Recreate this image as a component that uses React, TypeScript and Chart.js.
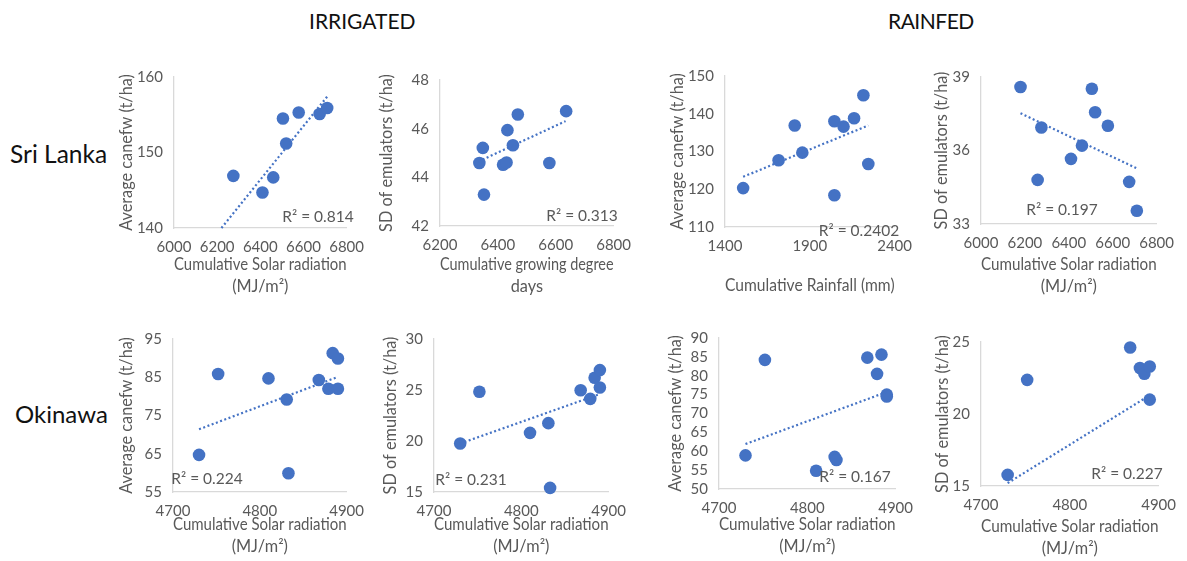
import React, { useEffect, useRef } from "react";
import { Chart, registerables } from "chart.js";

Chart.register(...registerables);

const FONT = "Lato, 'Open Sans', sans-serif";
const BLUE = "#4472C4";
const GRAY = "#595959";
const AXIS = "#D9D9D9";

// ---------- Sri Lanka, irrigated: canefw vs cumulative solar radiation ----------
const slIrrCaneX = [6275, 6410, 6460, 6505, 6520, 6578, 6675, 6710];
const slIrrCaneY = [146.9, 144.7, 146.7, 154.5, 151.2, 155.3, 155.1, 155.9];
const slIrrCaneTrendX = [6220, 6710];
const slIrrCaneTrendY = [140, 157.4];

// ---------- Sri Lanka, irrigated: SD vs cumulative GDD ----------
const slIrrSdX = [6336, 6348, 6352, 6418, 6430, 6433, 6452, 6469, 6578, 6636];
const slIrrSdY = [44.59, 45.21, 43.29, 44.52, 44.61, 45.94, 45.32, 46.58, 44.59, 46.72];
const slIrrSdTrendX = [6333, 6634];
const slIrrSdTrendY = [44.65, 46.31];

// ---------- Sri Lanka, rainfed: canefw vs cumulative rainfall ----------
const slRfCaneX = [1507, 1716, 1811, 1856, 2045, 2045, 2099, 2161, 2216, 2245];
const slRfCaneY = [120.3, 127.7, 136.9, 129.7, 138.0, 118.4, 136.6, 138.8, 144.9, 126.7];
const slRfCaneTrendX = [1507, 2245];
const slRfCaneTrendY = [123.3, 136.9];

// ---------- Sri Lanka, rainfed: SD vs cumulative solar radiation ----------
const slRfSdX = [6180, 6258, 6275, 6410, 6460, 6505, 6520, 6578, 6675, 6710];
const slRfSdY = [38.59, 34.8, 36.94, 35.66, 36.2, 38.52, 37.56, 37.01, 34.72, 33.54];
const slRfSdTrendX = [6180, 6710];
const slRfSdTrendY = [37.52, 35.27];

// ---------- Okinawa, irrigated: canefw vs cumulative solar radiation ----------
const okIrrCaneX = [4730, 4752, 4810, 4831, 4833, 4868, 4879, 4884, 4890, 4890];
const okIrrCaneY = [64.7, 85.85, 84.7, 79.2, 59.9, 84.3, 82.0, 91.3, 89.9, 82.0];
const okIrrCaneTrendX = [4730, 4890];
const okIrrCaneTrendY = [71.4, 85.1];

// ---------- Okinawa, irrigated: SD vs cumulative solar radiation ----------
const okIrrSdX = [4730, 4752, 4810, 4831, 4833, 4868, 4879, 4884, 4890, 4890];
const okIrrSdY = [19.75, 24.83, 20.8, 21.75, 15.4, 24.98, 24.13, 26.2, 26.95, 25.24];
const okIrrSdTrendX = [4730, 4890];
const okIrrSdTrendY = [19.75, 24.6];

// ---------- Okinawa, rainfed: canefw vs cumulative solar radiation ----------
const okRfCaneX = [4730, 4752, 4810, 4831, 4833, 4868, 4879, 4884, 4890, 4890];
const okRfCaneY = [58.9, 84.2, 54.85, 58.5, 57.7, 84.8, 80.5, 85.6, 75.0, 74.5];
const okRfCaneTrendX = [4730, 4890];
const okRfCaneTrendY = [61.9, 75.7];

// ---------- Okinawa, rainfed: SD vs cumulative solar radiation ----------
const okRfSdX = [4730, 4752, 4868, 4879, 4884, 4890, 4890];
const okRfSdY = [15.77, 22.37, 24.62, 23.19, 22.79, 23.3, 21.0];
const okRfSdTrendX = [4730, 4890];
const okRfSdTrendY = [15.2, 21.3];

// axis ranges [min, max, step]
const xSolarSL: [number, number, number] = [6000, 6800, 200];
const xGdd: [number, number, number] = [6200, 6800, 200];
const xRain: [number, number, number] = [1400, 2400, 500];
const xSolarOK: [number, number, number] = [4700, 4900, 100];

const CANE_TITLE = "Average canefw (t/ha)";
const SD_TITLE = "SD of emulators (t/ha)";
const SOLAR_TITLE = ["Cumulative Solar radiation", "(MJ/m\u00B2)"];

type Panel = {
  xs: number[];
  ys: number[];
  tx: number[];
  ty: number[];
  rect: [number, number, number, number];
  xr: [number, number, number];
  yr: [number, number, number];
  yTitle: string;
  yTitleX: number;
  xTitle: string[];
  xTitleLastY: number;
  r2: string;
  r2At: [number, number];
};

const panels: Panel[] = [
  {
    xs: slIrrCaneX, ys: slIrrCaneY, tx: slIrrCaneTrendX, ty: slIrrCaneTrendY,
    rect: [174, 71, 350, 228], xr: xSolarSL, yr: [140, 160, 10],
    yTitle: CANE_TITLE, yTitleX: 127, xTitle: SOLAR_TITLE, xTitleLastY: 287,
    r2: "R\u00B2 = 0.814", r2At: [318, 217],
  },
  {
    xs: slIrrSdX, ys: slIrrSdY, tx: slIrrSdTrendX, ty: slIrrSdTrendY,
    rect: [440, 74, 617, 226], xr: xGdd, yr: [42, 48, 2],
    yTitle: SD_TITLE, yTitleX: 387, xTitle: ["Cumulative growing degree", "days"], xTitleLastY: 287,
    r2: "R\u00B2 = 0.313", r2At: [582, 216],
  },
  {
    xs: slRfCaneX, ys: slRfCaneY, tx: slRfCaneTrendX, ty: slRfCaneTrendY,
    rect: [725, 70, 898, 227], xr: xRain, yr: [110, 150, 10],
    yTitle: CANE_TITLE, yTitleX: 678, xTitle: ["Cumulative Rainfall (mm)"], xTitleLastY: 286,
    r2: "R\u00B2 = 0.2402", r2At: [859, 231],
  },
  {
    xs: slRfSdX, ys: slRfSdY, tx: slRfSdTrendX, ty: slRfSdTrendY,
    rect: [981, 71, 1160, 224], xr: xSolarSL, yr: [33, 39, 3],
    yTitle: SD_TITLE, yTitleX: 942, xTitle: SOLAR_TITLE, xTitleLastY: 287,
    r2: "R\u00B2 = 0.197", r2At: [1062, 210],
  },
  {
    xs: okIrrCaneX, ys: okIrrCaneY, tx: okIrrCaneTrendX, ty: okIrrCaneTrendY,
    rect: [173, 333, 350, 492], xr: xSolarOK, yr: [55, 95, 10],
    yTitle: CANE_TITLE, yTitleX: 127, xTitle: SOLAR_TITLE, xTitleLastY: 547,
    r2: "R\u00B2 = 0.224", r2At: [207, 479],
  },
  {
    xs: okIrrSdX, ys: okIrrSdY, tx: okIrrSdTrendX, ty: okIrrSdTrendY,
    rect: [434, 333, 612, 492], xr: xSolarOK, yr: [15, 30, 5],
    yTitle: SD_TITLE, yTitleX: 391, xTitle: SOLAR_TITLE, xTitleLastY: 547,
    r2: "R\u00B2 = 0.231", r2At: [471, 480],
  },
  {
    xs: okRfCaneX, ys: okRfCaneY, tx: okRfCaneTrendX, ty: okRfCaneTrendY,
    rect: [719, 332, 899, 489], xr: xSolarOK, yr: [50, 90, 5],
    yTitle: CANE_TITLE, yTitleX: 676, xTitle: SOLAR_TITLE, xTitleLastY: 547,
    r2: "R\u00B2 = 0.167", r2At: [855, 477],
  },
  {
    xs: okRfSdX, ys: okRfSdY, tx: okRfSdTrendX, ty: okRfSdTrendY,
    rect: [981, 336, 1162, 486], xr: xSolarOK, yr: [15, 25, 5],
    yTitle: SD_TITLE, yTitleX: 943, xTitle: SOLAR_TITLE, xTitleLastY: 549,
    r2: "R\u00B2 = 0.227", r2At: [1127, 474],
  },
];

const TITLE_SIZE = 16.3;
const TITLE_LH = 22;
const TICK_SIZE = 15;
const TP = 14;
const RP = 24;

const plainTick = (v: any) => String(v);

function PanelChart({ p }: { p: Panel }) {
  const ref = useRef<HTMLCanvasElement>(null);
  const [l, t, r, b] = p.rect;
  const YW = l - (p.yTitleX - TITLE_LH / 2);
  const XH = p.xTitleLastY + TITLE_LH / 2 - b;
  const cl = l - YW;
  const ct = t - TP;
  const cw = YW + (r - l) + RP;
  const chh = TP + (b - t) + XH;

  useEffect(() => {
    if (!ref.current) return;
    const r2Plugin = {
      id: "r2label",
      afterDatasetsDraw(chart: any) {
        const ctx = chart.ctx;
        ctx.save();
        ctx.font = `15.5px ${FONT}`;
        ctx.fillStyle = GRAY;
        ctx.textAlign = "center";
        ctx.textBaseline = "middle";
        ctx.fillText(p.r2, p.r2At[0] - cl, p.r2At[1] - ct);
        ctx.restore();
      },
    };
    const chart = new Chart(ref.current, {
      type: "scatter",
      data: {
        datasets: [
          {
            type: "scatter",
            data: p.xs.map((x, i) => ({ x, y: p.ys[i] })),
            backgroundColor: BLUE,
            borderColor: BLUE,
            borderWidth: 0,
            pointRadius: 6.3,
            pointHoverRadius: 6.3,
            clip: false,
            order: 1,
          } as any,
          {
            type: "line",
            data: p.tx.map((x, i) => ({ x, y: p.ty[i] })),
            borderColor: BLUE,
            borderWidth: 2.2,
            borderDash: [2, 2.5],
            pointRadius: 0,
            fill: false,
            showLine: true,
            clip: false,
            order: 0,
          } as any,
        ],
      },
      options: {
        animation: false,
        responsive: false,
        maintainAspectRatio: false,
        events: [],
        layout: { padding: { top: TP, right: RP, left: 0, bottom: 0 } },
        plugins: { legend: { display: false }, tooltip: { enabled: false } },
        scales: {
          x: {
            type: "linear",
            position: "bottom",
            min: p.xr[0],
            max: p.xr[1],
            ticks: {
              stepSize: p.xr[2],
              padding: 10,
              color: GRAY,
              font: { family: FONT, size: TICK_SIZE },
              maxRotation: 0,
              autoSkip: false,
              callback: plainTick,
            },
            grid: { display: true, color: "rgba(0,0,0,0)", drawTicks: false },
            border: { display: true, color: AXIS, width: 1.3 },
            title: {
              display: true,
              text: p.xTitle,
              color: GRAY,
              font: { family: FONT, size: TITLE_SIZE, lineHeight: TITLE_LH / TITLE_SIZE },
              padding: { top: 0, bottom: 0 },
            },
            afterFit: (s: any) => {
              s.height = XH;
            },
          },
          y: {
            type: "linear",
            position: "left",
            min: p.yr[0],
            max: p.yr[1],
            ticks: {
              stepSize: p.yr[2],
              padding: 11,
              color: GRAY,
              font: { family: FONT, size: TICK_SIZE },
              autoSkip: false,
              callback: plainTick,
            },
            grid: { display: true, color: "rgba(0,0,0,0)", drawTicks: false },
            border: { display: true, color: AXIS, width: 1.3 },
            title: {
              display: true,
              text: p.yTitle,
              color: GRAY,
              font: { family: FONT, size: TITLE_SIZE, lineHeight: TITLE_LH / TITLE_SIZE },
              padding: { top: 0, bottom: 0 },
            },
            afterFit: (s: any) => {
              s.width = YW;
            },
          },
        },
      },
      plugins: [r2Plugin],
    } as any);
    return () => chart.destroy();
  }, []);

  return (
    <canvas
      ref={ref}
      width={cw}
      height={chh}
      style={{ position: "absolute", left: cl, top: ct, width: cw, height: chh }}
    />
  );
}

const headerStyle: React.CSSProperties = {
  position: "absolute",
  fontFamily: FONT,
  color: "#111",
  whiteSpace: "nowrap",
  lineHeight: 1,
};

export default function App() {
  return (
    <div
      style={{
        position: "absolute",
        left: 0,
        top: 0,
        width: 1187,
        height: 561,
        background: "#fff",
        overflow: "hidden",
      }}
    >
      <div style={{ ...headerStyle, left: 309, top: 10, fontSize: 21 }}>IRRIGATED</div>
      <div style={{ ...headerStyle, left: 888, top: 10, fontSize: 21, letterSpacing: -0.5 }}>RAINFED</div>
      <div style={{ ...headerStyle, left: 10, top: 142, fontSize: 24.5 }}>Sri Lanka</div>
      <div style={{ ...headerStyle, left: 15, top: 402, fontSize: 24 }}>Okinawa</div>
      {panels.map((p, i) => (
        <PanelChart key={i} p={p} />
      ))}
    </div>
  );
}
